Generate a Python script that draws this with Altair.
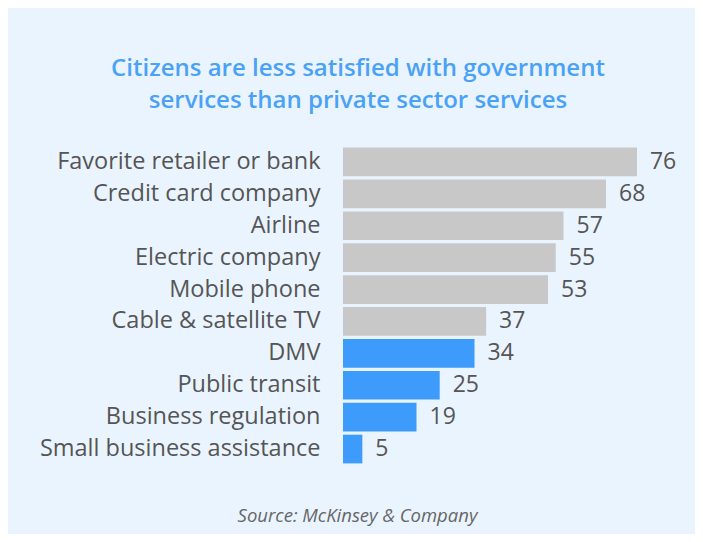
import altair as alt
import pandas as pd

categories = ["Favorite retailer or bank", "Credit card company", "Airline",
              "Electric company", "Mobile phone", "Cable & satellite TV",
              "DMV", "Public transit", "Business regulation",
              "Small business assistance"]
scores = [76, 68, 57, 55, 53, 37, 34, 25, 19, 5]
sectors = ["Private"] * 6 + ["Government"] * 4

df = pd.DataFrame({"category": categories, "score": scores, "sector": sectors})

FONT = "Open Sans"
TEXT = "#555555"

y = alt.Y("category:N", sort=categories,
          scale=alt.Scale(paddingInner=0.1, paddingOuter=0.05),
          axis=alt.Axis(title=None, ticks=False, domain=False,
                        labelFontSize=23.5, labelColor=TEXT, labelFont=FONT,
                        labelPadding=23, labelLimit=400))
x = alt.X("score:Q", scale=alt.Scale(domain=[0, 87.9], nice=False),
          axis=alt.Axis(title="Source: McKinsey & Company", labels=False,
                        ticks=False, domain=False, grid=False,
                        titleFontStyle="italic", titleFont=FONT,
                        titleFontSize=18.5, titleFontWeight="normal",
                        titleColor="#666666", titleX=14, titleY=50,
                        titleAlign="center", titleBaseline="middle"))

bars = alt.Chart(df).mark_bar().encode(
    x=x, y=y,
    color=alt.Color("sector:N",
                    scale=alt.Scale(domain=["Private", "Government"],
                                    range=["#c8c8c8", "#3d9cfb"]),
                    legend=None),
)

labels = alt.Chart(df).mark_text(align="left", baseline="middle", dx=13,
                                 fontSize=23, font=FONT, color=TEXT).encode(
    x="score:Q", y=alt.Y("category:N", sort=categories), text="score:Q")

chart = (bars + labels).properties(
    width=340, height=319,
    padding={"left": 335, "top": 138, "right": 12, "bottom": 69},
    autosize=alt.AutoSizeParams(type="none"),
    background="#eaf4fe",
    title=alt.TitleParams(
        ["Citizens are less satisfied with government",
         "services than private sector services"],
        anchor="middle", dx=-155, offset=33, fontSize=24, fontWeight=600,
        font=FONT, color="#4aa2f6", lineHeight=32),
).configure_view(stroke=None)

chart.save("out.html", embed_options={"renderer": "svg", "actions": False})
